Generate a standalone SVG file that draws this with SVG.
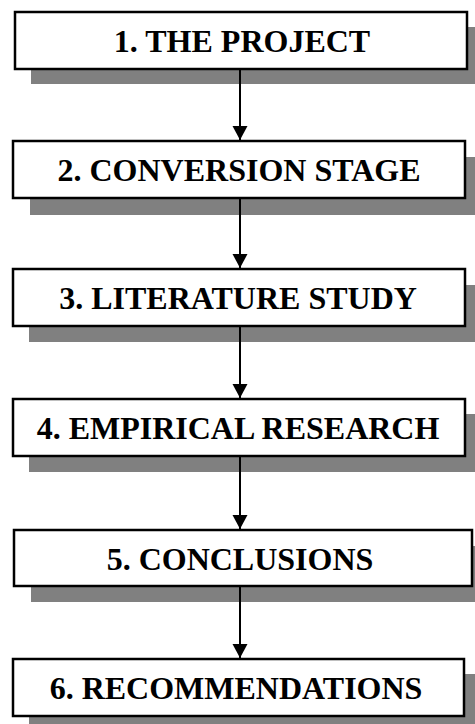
<svg xmlns="http://www.w3.org/2000/svg" width="475" height="724" viewBox="0 0 475 724">
  <style>
    .shadow { fill: #808080; }
    .box { fill: #ffffff; stroke: #000000; stroke-width: 2.5; }
    .label { font-family: "Liberation Serif", "Times New Roman", serif; font-weight: bold; font-size: 32px; fill: #000000; text-anchor: middle; }
    .link { stroke: #000000; stroke-width: 2; fill: none; marker-end: url(#head); }
  </style>
  <defs>
    <marker id="head" markerUnits="userSpaceOnUse" markerWidth="16" markerHeight="16" refX="14" refY="7.5" orient="auto">
      <path d="M0,0 L14,7.5 L0,15 Z" fill="#000000"/>
    </marker>
  </defs>
  <rect width="475" height="724" fill="#ffffff"/>

  <g id="node-1">
    <rect class="shadow" x="31" y="27" width="452" height="57"/>
    <rect class="box" x="15" y="12" width="452" height="57"/>
    <text class="label" x="242" y="52">1. THE PROJECT</text>
  </g>
  <g id="node-2">
    <rect class="shadow" x="30" y="157" width="452" height="58"/>
    <rect class="box" x="13" y="141" width="452" height="57"/>
    <text class="label" x="239" y="181">2. CONVERSION STAGE</text>
  </g>
  <g id="node-3">
    <rect class="shadow" x="29" y="285" width="452" height="57"/>
    <rect class="box" x="13" y="269" width="452" height="57"/>
    <text class="label" x="238" y="309">3. LITERATURE STUDY</text>
  </g>
  <g id="node-4">
    <rect class="shadow" x="29" y="414" width="452" height="58"/>
    <rect class="box" x="13" y="399" width="452" height="57"/>
    <text class="label" x="238" y="439">4. EMPIRICAL RESEARCH</text>
  </g>
  <g id="node-5">
    <rect class="shadow" x="31" y="546" width="458" height="56"/>
    <rect class="box" x="14" y="530" width="458" height="56"/>
    <text class="label" x="240" y="570">5. CONCLUSIONS</text>
  </g>
  <g id="node-6">
    <rect class="shadow" x="29" y="674" width="451" height="50"/>
    <rect class="box" x="13" y="659" width="451" height="57"/>
    <text class="label" x="236" y="699">6. RECOMMENDATIONS</text>
  </g>

  <g id="connectors">
    <line class="link" x1="240" y1="70" x2="240" y2="140"/>
    <line class="link" x1="240" y1="199" x2="240" y2="268"/>
    <line class="link" x1="240" y1="327" x2="240" y2="398"/>
    <line class="link" x1="240" y1="457" x2="240" y2="529"/>
    <line class="link" x1="240" y1="587" x2="240" y2="658"/>
  </g>
</svg>
